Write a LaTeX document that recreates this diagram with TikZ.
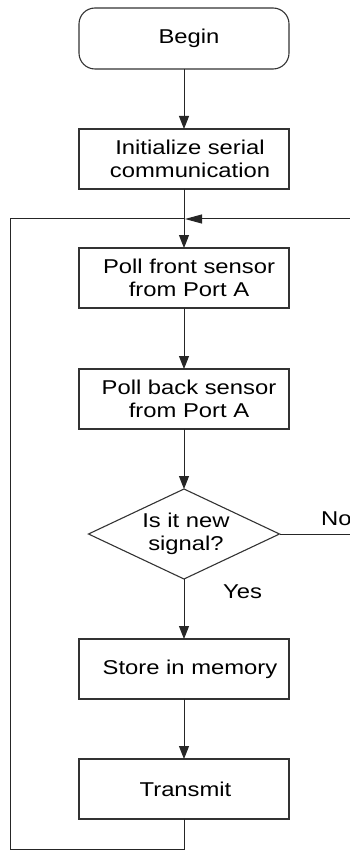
\documentclass[tikz,border=0pt]{standalone}
\usepackage{fontspec}
\setmainfont{Liberation Sans}[FakeStretch=1.19]
\usetikzlibrary{arrows.meta,shapes.geometric}

\begin{document}
\begin{tikzpicture}[x=1pt,y=-1pt,
  box/.style={draw=black!80, line width=1.1pt, minimum width=210pt,
    minimum height=60pt, inner sep=0pt, outer sep=0pt},
  decision/.style={draw=black!80, line width=1.1pt, shape=diamond,
    minimum width=191pt, minimum height=90pt, inner sep=0pt, outer sep=0pt},
  txt/.style={font=\fontsize{20}{23.3}\selectfont, align=center,
    inner sep=0pt, text=black},
  link/.style={draw=black!85, line width=1pt},
  tip/.style={-{Triangle[length=13pt,width=10pt]}},
  backtip/.style={-{Triangle[length=17pt,width=9pt]}}]

\useasboundingbox (0,0) rectangle (350,850);

% process steps
\node[box, rounded corners=16pt, minimum height=61pt,
      label={[txt,xshift=5pt]center:Begin}] (begin) at (184,38.5) {};
\node[box, label={[txt,xshift=6pt]center:Initialize serial\\communication}]
      (init) at (184,159) {};
\node[box, label={[txt,xshift=5pt]center:Poll front sensor\\from Port A}]
      (pollf) at (184,278) {};
\node[box, label={[txt,xshift=5pt]center:Poll back sensor\\from Port A}]
      (pollb) at (184,399) {};
\node[decision, label={[txt,xshift=2pt]center:Is it new\\signal?}]
      (dec) at (184,534) {};
\node[box, label={[txt,xshift=6pt]center:Store in memory}]
      (store) at (184,669) {};
\node[box, label={[txt,xshift=1.5pt]center:Transmit}]
      (trans) at (184,789) {};

% branch labels
\node[txt, anchor=base west] (no) at (321,525.7) {No};
\node[txt, anchor=base west] (yes) at (223,598) {Yes};

% loop-back points
\coordinate (join) at (184,219);
\coordinate (jointip) at (185,219);
\coordinate (rightin) at (350,219);
\coordinate (botleft) at (10,849);
\coordinate (topleft) at (10,219);
\coordinate (noend) at (350,534);

% main flow
\draw[link,tip] (begin.south) -- (init.north);
\draw[link,tip] (init.south) -- (pollf.north);
\draw[link,tip] (pollf.south) -- (pollb.north);
\draw[link,tip] (pollb.south) -- (dec.north);
\draw[link,tip] (dec.south) -- (store.north);
\draw[link,tip] (store.south) -- (trans.north);

% return paths
\draw[link] (trans.south) |- (botleft) -- (topleft) -- (join);
\draw[link,backtip] (rightin) -- (jointip);
\draw[link] (dec.east) -- (noend);

\end{tikzpicture}
\end{document}
